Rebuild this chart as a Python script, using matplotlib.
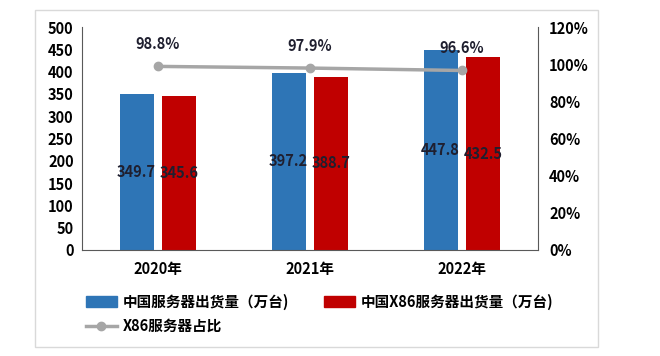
import matplotlib.pyplot as plt
from matplotlib.patches import Rectangle
from matplotlib.lines import Line2D
from matplotlib.patches import Patch
import numpy as np

plt.rcParams['font.family'] = ['Noto Sans CJK SC', 'DejaVu Sans']
plt.rcParams['font.weight'] = 'bold'

years = ['2020年', '2021年', '2022年']
servers = [349.7, 397.2, 447.8]
x86_servers = [345.6, 388.7, 432.5]
x86_ratio = [98.8, 97.9, 96.6]

blue = '#2E75B6'
red = '#C00000'
gray = '#A6A6A6'

fig = plt.figure(figsize=(6.6, 3.56), dpi=100)
fig.add_artist(Rectangle((35 / 660, 1 - 347 / 356), (598 - 35) / 660, (347 - 10) / 356,
                         transform=fig.transFigure, fill=False, edgecolor='#D9D9D9', lw=1))

ax1 = fig.add_axes([82 / 660, 1 - 250 / 356, (538 - 82) / 660, (250 - 27) / 356])
x = np.arange(len(years))
w = 0.224
ax1.bar(x - 0.141, servers, w, color=blue, zorder=2)
ax1.bar(x + 0.141, x86_servers, w, color=red, zorder=2)
for i in range(len(years)):
    ax1.text(x[i] - 0.141, servers[i] / 2, f'{servers[i]:.1f}', ha='center', va='center',
             fontsize=10.5, fontweight='bold', color='#1F1F2F', zorder=5)
    ax1.text(x[i] + 0.141, x86_servers[i] / 2, f'{x86_servers[i]:.1f}', ha='center', va='center',
             fontsize=10.5, fontweight='bold', color='#1F1F2F', zorder=5)

ax1.set_xlim(-0.5, 2.5)
ax1.set_ylim(0, 500)
ax1.set_yticks(range(0, 501, 50))
ax1.set_xticks(x)
ax1.set_xticklabels(years)
ax1.tick_params(axis='both', length=0, labelsize=10.5, pad=6)
ax1.tick_params(axis='x', pad=8)
for t in ax1.get_xticklabels() + ax1.get_yticklabels():
    t.set_fontweight('bold')
ax1.spines['top'].set_visible(False)
ax1.spines['right'].set_visible(False)
ax1.spines['left'].set_color('#595959')
ax1.spines['bottom'].set_color('#595959')

ax2 = ax1.twinx()
ax2.plot(x, x86_ratio, color=gray, lw=2.5, marker='o', markersize=6, zorder=3)
for i in range(len(years)):
    ax2.annotate(f'{x86_ratio[i]}%', (x[i], x86_ratio[i]), xytext=(0, 16), textcoords='offset points',
                 ha='center', va='center', fontsize=10.5, fontweight='bold', color='#1F1F2F')
ax2.set_ylim(0, 120)
ax2.set_yticks(range(0, 121, 20))
ax2.set_yticklabels([f'{v}%' for v in range(0, 121, 20)])
ax2.tick_params(axis='y', length=0, labelsize=10.5, pad=8)
for t in ax2.get_yticklabels():
    t.set_fontweight('bold')
for s in ['top', 'left', 'bottom']:
    ax2.spines[s].set_visible(False)
ax2.spines['right'].set_color('#595959')

handles1 = [Patch(color=blue), Patch(color=red)]
fig.legend(handles1, ['中国服务器出货量（万台)', '中国X86服务器出货量（万台)'],
           loc='center left', bbox_to_anchor=(73 / 660, 1 - 302 / 356), ncol=2, frameon=False,
           handlelength=2.1, handleheight=0.8, columnspacing=2.4, handletextpad=0.4,
           prop={'size': 10.5, 'weight': 'bold'})
handles2 = [Line2D([], [], color=gray, lw=2.5, marker='o', markersize=6)]
fig.legend(handles2, ['X86服务器占比'], loc='center left', bbox_to_anchor=(73 / 660, 1 - 326 / 356),
           frameon=False, handlelength=2.1, handletextpad=0.4, prop={'size': 10.5, 'weight': 'bold'})

fig.savefig('out.png', dpi=100)
